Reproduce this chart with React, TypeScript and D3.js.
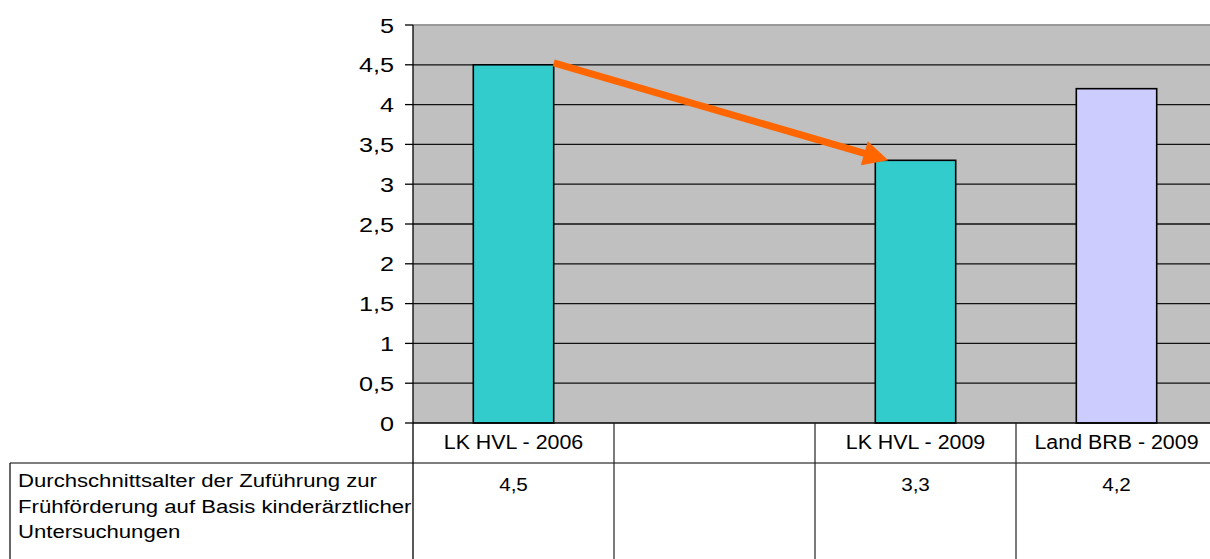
import React from "react";
import * as d3 from "d3";

const categories = ["LK HVL - 2006", "", "LK HVL - 2009", "Land BRB - 2009"];
const values: (number | null)[] = [4.5, null, 3.3, 4.2];
const valueLabels = ["4,5", "", "3,3", "4,2"];
const barColors = ["#33CCCC", "#33CCCC", "#33CCCC", "#CCCCFF"];
const yTicks = [0, 0.5, 1, 1.5, 2, 2.5, 3, 3.5, 4, 4.5, 5];
const yTickLabels = ["0", "0,5", "1", "1,5", "2", "2,5", "3", "3,5", "4", "4,5", "5"];
const seriesLabel = [
  "Durchschnittsalter der Zuführung zur",
  "Frühförderung auf Basis kinderärztlicher",
  "Untersuchungen",
];
// arrow drawn from first to third category value
const arrowFrom = 0;
const arrowTo = 2;

const W = 1210;
const H = 559;
const plotLeft = 413;
const plotRight = 1217;
const plotTop = 25;
const plotBottom = 423;
const row1Bottom = 463;
const tableBottom = 575;
const legendLeft = 10;
const FONT = "'Liberation Sans', Arial, sans-serif";

function SText({ x, y, sx = 1, size, anchor = "start", children }: any) {
  return (
    <text
      transform={`translate(${x},${y}) scale(${sx},1)`}
      fontSize={size}
      fontFamily={FONT}
      textAnchor={anchor}
      fill="#000"
    >
      {children}
    </text>
  );
}

export default function App() {
  const xKeys = categories.map((_, i) => String(i));
  const x = d3.scaleBand<string>().domain(xKeys).range([plotLeft, plotRight]).padding(0);
  const y = d3.scaleLinear().domain([0, 5]).range([plotBottom, plotTop]);
  const bw = x.bandwidth();
  const barW = bw * 0.4;
  const barX = (i: number) => (x(String(i)) as number) + (bw - barW) / 2;

  // arrow geometry from data
  const ax1 = barX(arrowFrom) + barW;
  const ay1 = y(values[arrowFrom] as number) - 2;
  const ax2 = barX(arrowTo) + 13;
  const ay2 = y(values[arrowTo] as number);
  const dx = ax2 - ax1;
  const dy = ay2 - ay1;
  const len = Math.sqrt(dx * dx + dy * dy);
  const ux = dx / len;
  const uy = dy / len;
  const headL = 25;
  const headHW = 12.5;
  const bx = ax2 - ux * headL;
  const by = ay2 - uy * headL;
  const head = [
    [ax2, ay2],
    [bx - uy * headHW, by + ux * headHW],
    [bx + uy * headHW, by - ux * headHW],
  ];

  const boundaries = xKeys.slice(1).map((k) => x(k) as number);

  return (
    <svg
      width={W}
      height={H}
      style={{ position: "absolute", left: 0, top: 0, background: "#fff" }}
    >
      {/* plot background */}
      <rect x={plotLeft} y={plotTop} width={plotRight - plotLeft} height={plotBottom - plotTop} fill="#C0C0C0" />
      <line x1={plotLeft} x2={plotRight} y1={plotTop} y2={plotTop} stroke="#9a9a9a" strokeWidth={2} />

      {/* gridlines */}
      {yTicks.filter((t) => t > 0 && t < 5).map((t) => (
        <line key={t} x1={plotLeft} x2={plotRight} y1={y(t)} y2={y(t)} stroke="#111" strokeWidth={1.3} />
      ))}

      {/* bars */}
      {values.map((v, i) =>
        v == null ? null : (
          <rect
            key={i}
            x={barX(i)}
            y={y(v)}
            width={barW}
            height={y(0) - y(v)}
            fill={barColors[i]}
            stroke="#000"
            strokeWidth={1.6}
          />
        )
      )}

      {/* arrow */}
      <line x1={ax1} y1={ay1} x2={bx + ux * 2} y2={by + uy * 2} stroke="#FF6600" strokeWidth={7} />
      <polygon points={head.map((p) => p.join(",")).join(" ")} fill="#FF6600" />

      {/* y axis */}
      <line x1={plotLeft} x2={plotLeft} y1={plotTop} y2={tableBottom} stroke="#000" strokeWidth={1.3} />
      {yTicks.map((t, i) => (
        <g key={t}>
          <line x1={plotLeft - 8} x2={plotLeft} y1={y(t)} y2={y(t)} stroke="#000" strokeWidth={1.3} />
          <SText x={394} y={y(t) + 7.5} size={21} sx={1.2} anchor="end">
            {yTickLabels[i]}
          </SText>
        </g>
      ))}

      {/* x axis / table */}
      <line x1={plotLeft} x2={plotRight} y1={plotBottom} y2={plotBottom} stroke="#000" strokeWidth={1.3} />
      <line x1={legendLeft} x2={plotRight} y1={row1Bottom} y2={row1Bottom} stroke="#000" strokeWidth={1.2} />
      <line x1={legendLeft} x2={legendLeft} y1={row1Bottom} y2={tableBottom} stroke="#000" strokeWidth={1.2} />
      {boundaries.map((bx2, i) => (
        <line key={i} x1={bx2} x2={bx2} y1={plotBottom} y2={tableBottom} stroke="#222" strokeWidth={1.2} />
      ))}

      {categories.map((c, i) => (
        <SText key={"c" + i} x={(x(String(i)) as number) + bw / 2} y={449} size={20} sx={1.07} anchor="middle">
          {c}
        </SText>
      ))}
      {valueLabels.map((c, i) => (
        <SText key={"v" + i} x={(x(String(i)) as number) + bw / 2} y={491} size={18} sx={1.15} anchor="middle">
          {c}
        </SText>
      ))}
      {seriesLabel.map((l, i) => (
        <SText key={"l" + i} x={18} y={487 + i * 25.5} size={18} sx={1.23}>
          {l}
        </SText>
      ))}
    </svg>
  );
}
